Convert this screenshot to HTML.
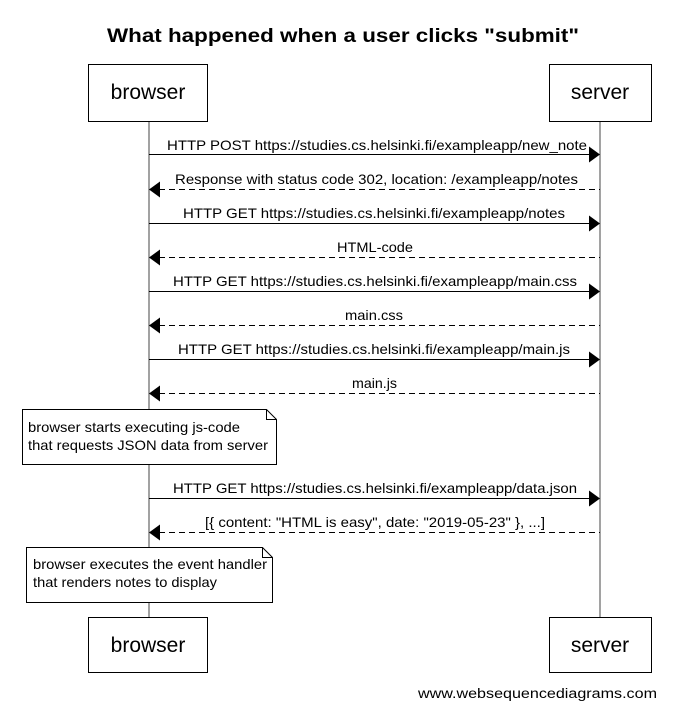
<!DOCTYPE html>
<html><head><meta charset="utf-8"><style>
html,body{margin:0;padding:0;background:#fff;}
svg{display:block;}
text{font-family:"Liberation Sans",Arial,sans-serif;fill:#000;}
</style></head><body>
<svg width="686" height="715" viewBox="0 0 686 715" xmlns="http://www.w3.org/2000/svg">
<text x="343" y="42" text-anchor="middle" font-size="19" font-weight="bold" textLength="472" lengthAdjust="spacingAndGlyphs">What happened when a user clicks "submit"</text>
<g stroke="#000" stroke-width="1" fill="none">
<line x1="149" y1="121" x2="149" y2="617" stroke="#444"/>
<line x1="600" y1="121" x2="600" y2="617" stroke="#444"/>
<rect x="88.5" y="64.5" width="119" height="57" fill="#fff"/>
<rect x="549.5" y="64.5" width="102" height="57" fill="#fff"/>
<rect x="88.5" y="617.5" width="119" height="55" fill="#fff"/>
<rect x="549.5" y="617.5" width="102" height="55" fill="#fff"/>
</g>
<text x="148" y="99" text-anchor="middle" font-size="21">browser</text>
<text x="600" y="99" text-anchor="middle" font-size="21">server</text>
<text x="148" y="652" text-anchor="middle" font-size="21">browser</text>
<text x="600" y="652" text-anchor="middle" font-size="21">server</text>

<g stroke="#000" stroke-width="1">
<line x1="149" y1="154.5" x2="590" y2="154.5"/>
<line x1="159" y1="189.5" x2="600" y2="189.5" stroke-dasharray="6,4"/>
<line x1="149" y1="223.5" x2="590" y2="223.5"/>
<line x1="159" y1="257.5" x2="600" y2="257.5" stroke-dasharray="6,4"/>
<line x1="149" y1="291.5" x2="590" y2="291.5"/>
<line x1="159" y1="325.5" x2="600" y2="325.5" stroke-dasharray="6,4"/>
<line x1="149" y1="359.5" x2="590" y2="359.5"/>
<line x1="159" y1="393.5" x2="600" y2="393.5" stroke-dasharray="6,4"/>
<line x1="149" y1="498.5" x2="590" y2="498.5"/>
<line x1="159" y1="532.5" x2="600" y2="532.5" stroke-dasharray="6,4"/>
</g>
<g fill="#000">
<polygon points="600,154.5 589,146.5 589,162.5"/>
<polygon points="149,189.5 160,181.5 160,197.5"/>
<polygon points="600,223.5 589,215.5 589,231.5"/>
<polygon points="149,257.5 160,249.5 160,265.5"/>
<polygon points="600,291.5 589,283.5 589,299.5"/>
<polygon points="149,325.5 160,317.5 160,333.5"/>
<polygon points="600,359.5 589,351.5 589,367.5"/>
<polygon points="149,393.5 160,385.5 160,401.5"/>
<polygon points="600,498.5 589,490.5 589,506.5"/>
<polygon points="149,532.5 160,524.5 160,540.5"/>
</g>
<g font-size="14" lengthAdjust="spacingAndGlyphs">
<text x="167" y="150" textLength="420" lengthAdjust="spacingAndGlyphs">HTTP POST https://studies.cs.helsinki.fi/exampleapp/new_note</text>
<text x="175" y="184" textLength="403" lengthAdjust="spacingAndGlyphs">Response with status code 302, location: /exampleapp/notes</text>
<text x="183" y="218" textLength="382" lengthAdjust="spacingAndGlyphs">HTTP GET https://studies.cs.helsinki.fi/exampleapp/notes</text>
<text x="337" y="252" textLength="76" lengthAdjust="spacingAndGlyphs">HTML-code</text>
<text x="173" y="286" textLength="404" lengthAdjust="spacingAndGlyphs">HTTP GET https://studies.cs.helsinki.fi/exampleapp/main.css</text>
<text x="345" y="320" textLength="58" lengthAdjust="spacingAndGlyphs">main.css</text>
<text x="178" y="354" textLength="392" lengthAdjust="spacingAndGlyphs">HTTP GET https://studies.cs.helsinki.fi/exampleapp/main.js</text>
<text x="352" y="388" textLength="45" lengthAdjust="spacingAndGlyphs">main.js</text>
<text x="173" y="493" textLength="404" lengthAdjust="spacingAndGlyphs">HTTP GET https://studies.cs.helsinki.fi/exampleapp/data.json</text>
<text x="205" y="527" textLength="340" lengthAdjust="spacingAndGlyphs">[{ content: "HTML is easy", date: "2019-05-23" }, ...]</text>
</g>
<g stroke="#000" stroke-width="1" fill="#fff">
<path d="M22.5,409.5 H266.5 L276.5,419.5 V464.5 H22.5 Z"/>
<path d="M266.5,409.5 V419.5 H276.5" fill="none"/>
<path d="M26.5,547.5 H262.5 L272.5,557.5 V602.5 H26.5 Z"/>
<path d="M262.5,547.5 V557.5 H272.5" fill="none"/>
</g>
<g font-size="14">
<text x="28" y="432" textLength="212" lengthAdjust="spacingAndGlyphs">browser starts executing js-code</text>
<text x="28" y="450" textLength="240" lengthAdjust="spacingAndGlyphs">that requests JSON data from server</text>
<text x="33" y="569" textLength="234" lengthAdjust="spacingAndGlyphs">browser executes the event handler</text>
<text x="33" y="587" textLength="184" lengthAdjust="spacingAndGlyphs">that renders notes to display</text>
</g>
<text x="418" y="698" font-size="13.5" textLength="239" lengthAdjust="spacingAndGlyphs">www.websequencediagrams.com</text>
</svg>
</body></html>
